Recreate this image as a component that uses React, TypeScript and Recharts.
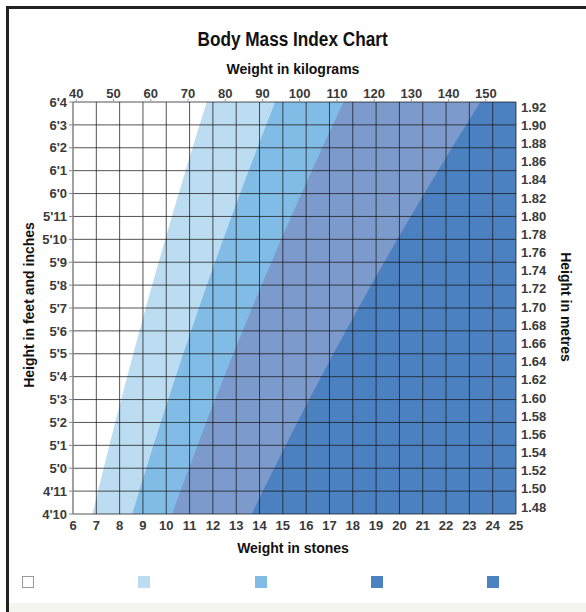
import React from "react";
import { ComposedChart, Area, XAxis, YAxis, ReferenceLine } from "recharts";

// heights in inches, 4'10 to 6'4
const heightInches = [58, 59, 60, 61, 62, 63, 64, 65, 66, 67, 68, 69, 70, 71, 72, 73, 74, 75, 76];
const heightLabels = ["4'10", "4'11", "5'0", "5'1", "5'2", "5'3", "5'4", "5'5", "5'6", "5'7", "5'8", "5'9", "5'10", "5'11", "6'0", "6'1", "6'2", "6'3", "6'4"];
const stoneTicks = [6, 7, 8, 9, 10, 11, 12, 13, 14, 15, 16, 17, 18, 19, 20, 21, 22, 23, 24, 25];
const kgTicks = [40, 50, 60, 70, 80, 90, 100, 110, 120, 130, 140, 150];
const metreTicks = [1.48, 1.5, 1.52, 1.54, 1.56, 1.58, 1.6, 1.62, 1.64, 1.66, 1.68, 1.7, 1.72, 1.74, 1.76, 1.78, 1.8, 1.82, 1.84, 1.86, 1.88, 1.9, 1.92];
// BMI band limits: under 20, 20-25, 25-30, 30-40, over 40
const bmiLimits = [20, 25, 30, 40];
const bandColors = ["#ffffff", "#bcdcf1", "#80bce6", "#7c9acb", "#4b80c1"];
const legendColors = ["#ffffff", "#bcdcf1", "#80bce6", "#4b82c2", "#4b82c2"];

const KG_PER_STONE = 6.35029;

const rows = heightInches.map((inch) => {
  const m = inch * 0.0254;
  const row: Record<string, number> = { inches: inch, metres: m, full: 25 };
  bmiLimits.forEach((b) => {
    row["b" + b] = (b * m * m) / KG_PER_STONE;
  });
  return row;
});

const font = "'Liberation Sans', Arial, sans-serif";
const tickStyle = { fontSize: 13, fill: "#3a3a3a", fontFamily: font, fontWeight: "bold" as const };
const axisTitle = { fontWeight: "bold" as const, fontSize: 14, color: "#111" };

export default function App() {
  const areaKeys = ["full", "b40", "b30", "b25", "b20"];
  const areaColors = [bandColors[4], bandColors[3], bandColors[2], bandColors[1], bandColors[0]];
  return (
    <div style={{ position: "absolute", left: 0, top: 0, width: 586, height: 612, background: "#fff", overflow: "hidden", fontFamily: font }}>
      <div style={{ position: "absolute", left: 6, top: 6, width: 580, height: 3, background: "#222" }} />
      <div style={{ position: "absolute", left: 6, top: 6, width: 3, height: 606, background: "#222" }} />
      <div style={{ position: "absolute", left: 9, top: 603, width: 577, height: 9, background: "#f4f5ef" }} />

      <div style={{ position: "absolute", left: 0, width: 586, top: 28, textAlign: "center" }}>
        <span style={{ display: "inline-block", transform: "scaleX(0.86)", fontWeight: "bold", fontSize: 20, color: "#111" }}>
          Body Mass Index Chart
        </span>
      </div>
      <div style={{ position: "absolute", left: 0, width: 586, top: 61, textAlign: "center", ...axisTitle }}>
        Weight in kilograms
      </div>
      <div style={{ position: "absolute", left: 0, width: 586, top: 540, textAlign: "center", ...axisTitle }}>
        Weight in stones
      </div>
      <div style={{ position: "absolute", left: 29, top: 305, width: 0, height: 0 }}>
        <div style={{ position: "absolute", transform: "translate(-50%, -50%) rotate(-90deg)", whiteSpace: "nowrap", ...axisTitle }}>
          Height in feet and inches
        </div>
      </div>
      <div style={{ position: "absolute", left: 566, top: 307, width: 0, height: 0 }}>
        <div style={{ position: "absolute", transform: "translate(-50%, -50%) rotate(90deg)", whiteSpace: "nowrap", ...axisTitle }}>
          Height in metres
        </div>
      </div>

      <div style={{ position: "absolute", left: 0, top: 0 }}>
        <ComposedChart
          width={586}
          height={612}
          data={rows}
          layout="vertical"
          margin={{ top: 72, right: 20, bottom: 68, left: 13 }}
        >
          <XAxis
            type="number"
            dataKey="full"
            domain={[6, 25]}
            ticks={stoneTicks}
            interval={0}
            axisLine={false}
            tickLine={false}
            tickSize={0}
            tickMargin={7}
            height={30}
            tick={tickStyle}
            allowDataOverflow
          />
          <XAxis
            xAxisId="kg"
            orientation="top"
            type="number"
            domain={[39.1, 158.1]}
            ticks={kgTicks}
            interval={0}
            axisLine={false}
            tickLine={{ stroke: "#999" }}
            tickSize={3}
            tickMargin={1}
            height={30}
            tick={tickStyle}
            allowDataOverflow
          />
          <YAxis
            type="number"
            dataKey="inches"
            domain={[58, 76]}
            reversed
            ticks={heightInches}
            interval={0}
            tickFormatter={(v: number) => heightLabels[heightInches.indexOf(v)]}
            axisLine={{ stroke: "#999" }}
            tickLine={{ stroke: "#888" }}
            tickSize={4}
            tickMargin={2}
            width={60}
            tick={tickStyle}
            allowDataOverflow
          />
          <YAxis
            yAxisId="m"
            orientation="right"
            type="number"
            dataKey="metres"
            domain={[1.4723, 1.9255]}
            reversed
            ticks={metreTicks}
            interval={0}
            tickFormatter={(v: number) => v.toFixed(2)}
            axisLine={false}
            tickLine={false}
            tickSize={0}
            tickMargin={5}
            width={50}
            tick={{ ...tickStyle, textAnchor: "start" }}
            allowDataOverflow
          />
          {areaKeys.map((k, i) => (
            <Area
              key={k}
              type="linear"
              dataKey={k}
              fill={areaColors[i]}
              fillOpacity={1}
              stroke="none"
              dot={false}
              activeDot={false}
              isAnimationActive={false}
            />
          ))}
          <Area
            yAxisId="m"
            xAxisId="kg"
            dataKey="full"
            fill="none"
            stroke="none"
            dot={false}
            activeDot={false}
            legendType="none"
            isAnimationActive={false}
          />
          {stoneTicks.map((s) => (
            <ReferenceLine key={"x" + s} x={s} stroke="#1a1a1a" strokeOpacity={0.75} strokeWidth={1} />
          ))}
          {heightInches.map((h) => (
            <ReferenceLine key={"y" + h} y={h} stroke="#1a1a1a" strokeOpacity={0.75} strokeWidth={1} />
          ))}
        </ComposedChart>
      </div>

      {legendColors.map((c, i) => (
        <div
          key={i}
          style={{
            position: "absolute",
            left: 22 + i * 116.3,
            top: 576,
            width: 12,
            height: 12,
            background: c,
            boxSizing: "border-box",
            border: i === 0 ? "1.5px solid #999" : "none",
          }}
        />
      ))}
    </div>
  );
}
